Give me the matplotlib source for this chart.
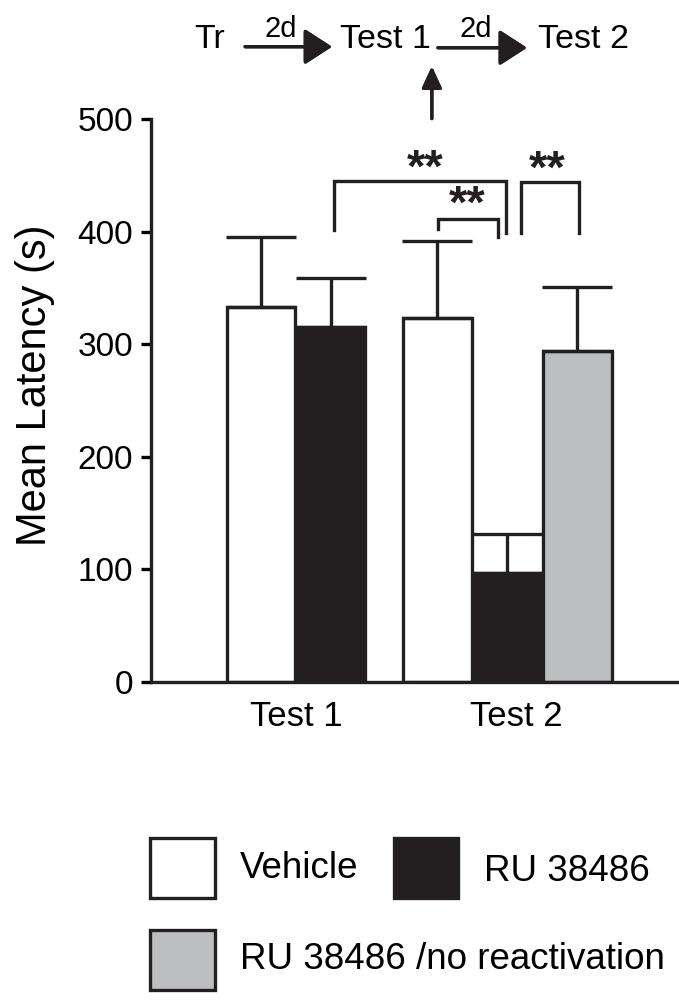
import matplotlib.pyplot as plt
from matplotlib.patches import Rectangle

plt.rcParams['font.family'] = ['Liberation Sans', 'DejaVu Sans']

labels = ['Vehicle', 'RU 38486', 'RU 38486 /no reactivation']
groups = ['Test 1', 'Test 2']
bar_pos = [1.57, 2.57, 4.09, 5.09, 6.09]
means = [333, 315, 323, 97, 294]
sem = [62, 44, 69, 34, 57]
kinds = [0, 1, 0, 1, 2]
colors = ['white', '#231f20', '#bcbec0']
# significance brackets: x left, x right, y top, left leg end, right leg end
brackets = [(2.61, 5.07, 445, 401, 399),
            (4.10, 4.96, 411, 402, 395),
            (5.28, 6.11, 444, 399, 399)]
star_xy = [(3.91, 455), (4.51, 423), (5.66, 454)]

fig = plt.figure(figsize=(6.79, 10.05), dpi=100)
ax = fig.add_axes([0.2224, 0.3214, 0.7776, 0.5602])

k = '#231f20'
lw = 2.4
ax.bar(bar_pos, means, width=0.98, color=[colors[c] for c in kinds],
       edgecolor=k, linewidth=lw, zorder=2)
ax.errorbar(bar_pos, means, yerr=[[0] * len(sem), sem], fmt='none',
            ecolor=k, elinewidth=lw, capsize=25, capthick=lw, zorder=3)

for x0, x1, yt, yl, yr in brackets:
    ax.plot([x0, x0, x1, x1], [yl, yt, yt, yr], color=k, lw=lw,
            clip_on=False, solid_joinstyle='miter')
for sx, sy in star_xy:
    ax.text(sx, sy, '**', ha='center', va='center', fontsize=34,
            color=k, fontweight='bold')

ax.set_xlim(0, 7.54)
ax.set_ylim(0, 500)
ax.set_yticks([0, 100, 200, 300, 400, 500])
ax.set_xticks([2.08, 5.21])
ax.set_xticklabels(groups)
ax.tick_params(axis='x', length=0, labelsize=25, pad=13)
ax.tick_params(axis='y', length=7, width=lw, labelsize=24, pad=6)
ax.set_ylabel('Mean Latency (s)', fontsize=30, va='center')
ax.yaxis.set_label_coords(-0.22, 0.527)
for s in ['top', 'right']:
    ax.spines[s].set_visible(False)
for s in ['left', 'bottom']:
    ax.spines[s].set_linewidth(lw)
    ax.spines[s].set_color(k)

# timeline at the top
fs = 24.5
fig.text(0.309, 0.952, 'Tr', ha='center', va='baseline', fontsize=fs)
fig.text(0.568, 0.952, 'Test 1', ha='center', va='baseline', fontsize=fs)
fig.text(0.859, 0.952, 'Test 2', ha='center', va='baseline', fontsize=fs)
fig.text(0.414, 0.963, '2d', ha='center', va='baseline', fontsize=21)
fig.text(0.700, 0.963, '2d', ha='center', va='baseline', fontsize=21)
arr = dict(arrowstyle='-|>,head_length=1.7,head_width=1.1', lw=2.4,
           color=k, shrinkA=0, shrinkB=0)
fig.add_artist(plt.annotate('', xy=(0.489, 0.9535), xytext=(0.361, 0.9535),
                            xycoords='figure fraction', arrowprops=arr))
fig.add_artist(plt.annotate('', xy=(0.776, 0.9525), xytext=(0.645, 0.9525),
                            xycoords='figure fraction', arrowprops=arr))
arr2 = dict(arrowstyle='-|>,head_length=1.3,head_width=0.6', lw=2.4,
            color=k, shrinkA=0, shrinkB=0)
fig.add_artist(plt.annotate('', xy=(0.636, 0.934), xytext=(0.636, 0.882),
                            xycoords='figure fraction', arrowprops=arr2))

# legend
boxes = [(0.2209, 0.1065, 0.0957), (0.5803, 0.1065, 0.0943), (0.2209, 0.0149, 0.0957)]
text_pos = [(0.3535, 0.136), (0.7128, 0.133), (0.3535, 0.0455)]
for i, lab in enumerate(labels):
    bx, by, bw = boxes[i]
    fig.add_artist(Rectangle((bx, by), bw, 0.0600, transform=fig.transFigure,
                             facecolor=colors[i], edgecolor=k, linewidth=lw))
    fig.text(text_pos[i][0], text_pos[i][1], lab, ha='left', va='center',
             fontsize=26.5)

fig.savefig('out.png', dpi=100)
